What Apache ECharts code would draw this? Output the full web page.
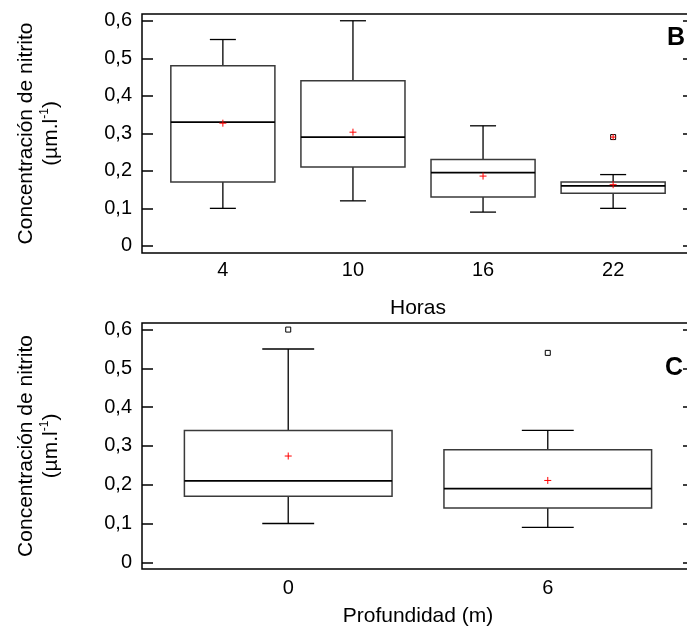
<!DOCTYPE html>
<html>
<head>
<meta charset="utf-8">
<script src="https://cdn.jsdelivr.net/npm/echarts@6/dist/echarts.min.js"></script>
<style>html,body{margin:0;padding:0;background:#fff}#c{width:687px;height:628px}</style>
</head>
<body>
<div id="c"></div>
<script>
// ---- Panel B: by hour ----
const hours = [4, 10, 16, 22];
const hMin = [0.10, 0.12, 0.09, 0.10];
const hQ1 = [0.17, 0.21, 0.13, 0.14];
const hMed = [0.33, 0.29, 0.195, 0.16];
const hQ3 = [0.48, 0.44, 0.23, 0.17];
const hMax = [0.55, 0.60, 0.32, 0.19];
const hMean = [0.327, 0.303, 0.186, 0.163];
const hOutliers = [[22, 0.29]];
const hOutlierPlus = [[22, 0.29]];

// ---- Panel C: by depth ----
const depths = [0, 6];
const dMin = [0.10, 0.09];
const dQ1 = [0.17, 0.14];
const dMed = [0.21, 0.19];
const dQ3 = [0.34, 0.29];
const dMax = [0.55, 0.34];
const dMean = [0.274, 0.211];
const dOutliers = [[0, 0.60], [6, 0.54]];

const yTicks = [0, 0.1, 0.2, 0.3, 0.4, 0.5, 0.6];

const FONT = "'Liberation Sans', Arial, sans-serif";
const BOX_W = 4.8, CAP_W = 1.2;

function rows(xs, mn, q1, md, q3, mx, mean) {
  return xs.map((x, i) => [x, mn[i], q1[i], md[i], q3[i], mx[i], mean[i]]);
}

function boxRender(params, api) {
  const x = api.value(0);
  const pMin = api.coord([x, api.value(1)]);
  const pQ1 = api.coord([x, api.value(2)]);
  const pMed = api.coord([x, api.value(3)]);
  const pQ3 = api.coord([x, api.value(4)]);
  const pMax = api.coord([x, api.value(5)]);
  const pMean = api.coord([x, api.value(6)]);
  const hw = api.size([BOX_W, 0])[0] / 2;
  const cw = api.size([CAP_W, 0])[0] / 2;
  const cx = pMin[0];
  const ln = (x1, y1, x2, y2, st) => ({type: 'line', shape: {x1, y1, x2, y2}, style: st});
  const wStyle = {stroke: '#000', lineWidth: 1.3};
  const mStyle = {stroke: '#000', lineWidth: 1.8};
  const rStyle = {stroke: '#ff0000', lineWidth: 1};
  return {
    type: 'group',
    children: [
      ln(cx, pQ1[1], cx, pMin[1], wStyle),
      ln(cx, pQ3[1], cx, pMax[1], wStyle),
      ln(cx - cw, pMin[1], cx + cw, pMin[1], wStyle),
      ln(cx - cw, pMax[1], cx + cw, pMax[1], wStyle),
      {type: 'rect', shape: {x: cx - hw, y: pQ3[1], width: 2 * hw, height: pQ1[1] - pQ3[1]},
       style: {fill: 'none', stroke: '#3a3a3a', lineWidth: 1.5}},
      ln(cx - hw, pMed[1], cx + hw, pMed[1], mStyle),
      ln(cx - 3.5, pMean[1], cx + 3.5, pMean[1], rStyle),
      ln(cx, pMean[1] - 3.5, cx, pMean[1] + 3.5, rStyle)
    ]
  };
}

function outlierRender(params, api) {
  const p = api.coord([api.value(0), api.value(1)]);
  return {type: 'rect', shape: {x: p[0] - 2.5, y: p[1] - 2.5, width: 5, height: 5},
          style: {fill: '#fff', stroke: '#000', lineWidth: 1}};
}
function plusRender(params, api) {
  const p = api.coord([api.value(0), api.value(1)]);
  const st = {stroke: '#ff0000', lineWidth: 1};
  return {type: 'group', children: [
    {type: 'line', shape: {x1: p[0] - 3, y1: p[1], x2: p[0] + 3, y2: p[1]}, style: st},
    {type: 'line', shape: {x1: p[0], y1: p[1] - 3, x2: p[0], y2: p[1] + 3}, style: st}
  ]};
}

const yName = '{a|Concentración de nitrito}\n{a|(µm.l}{s|-1}{a|)}';
const yNameStyle = {
  rich: {
    a: {fontSize: 21, fontFamily: FONT, color: '#000', lineHeight: 25},
    s: {fontSize: 12, fontFamily: FONT, color: '#000', lineHeight: 25, verticalAlign: 'top'}
  }
};
const fmt = v => (Math.abs(v) < 1e-9 ? '0' : v.toFixed(1).replace('.', ','));

function leftY(gi, mn, mx) {
  return {
    type: 'value', gridIndex: gi, min: mn, max: mx, position: 'left',
    axisLine: {show: false, onZero: false}, splitLine: {show: false},
    axisTick: {show: true, inside: true, length: 11, customValues: yTicks, lineStyle: {color: '#000', width: 1.5}},
    axisLabel: {show: true, customValues: yTicks, formatter: fmt, fontSize: 20, fontFamily: FONT, color: '#000', margin: 10},
    name: yName, nameLocation: 'middle', nameGap: 78, nameRotate: 90, nameTextStyle: yNameStyle
  };
}
function rightY(gi, mn, mx) {
  return {
    type: 'value', gridIndex: gi, min: mn, max: mx, position: 'right',
    axisLine: {show: false, onZero: false}, splitLine: {show: false},
    axisTick: {show: true, inside: true, length: 11, customValues: yTicks, lineStyle: {color: '#000', width: 1.5}},
    axisLabel: {show: false}
  };
}
function xAx(gi, mn, mx, ticks, name, margin, gap) {
  return {
    type: 'value', gridIndex: gi, min: mn, max: mx,
    axisLine: {show: false, onZero: false}, axisTick: {show: false}, splitLine: {show: false},
    axisLabel: {show: true, customValues: ticks, fontSize: 20, fontFamily: FONT, color: '#000', margin: margin},
    name: name, nameLocation: 'middle', nameGap: gap,
    nameTextStyle: {fontSize: 21, fontFamily: FONT, color: '#000'}
  };
}

const option = {
  animation: false,
  backgroundColor: '#fff',
  grid: [
    {left: 142, top: 14, right: -7, height: 239, outerBoundsMode: 'none', containLabel: false,
     show: true, borderColor: '#000', borderWidth: 1.5, backgroundColor: 'transparent'},
    {left: 142, top: 323, right: -7, height: 246, outerBoundsMode: 'none', containLabel: false,
     show: true, borderColor: '#000', borderWidth: 1.5, backgroundColor: 'transparent'}
  ],
  xAxis: [
    xAx(0, 0.27, 25.73, hours, 'Horas', 7, 45),
    xAx(1, -3.38, 9.38, depths, 'Profundidad (m)', 9, 37)
  ],
  yAxis: [
    leftY(0, -0.019, 0.618),
    rightY(0, -0.019, 0.618),
    leftY(1, -0.0173, 0.617),
    rightY(1, -0.0173, 0.617)
  ],
  graphic: [
    {type: 'text', x: 667, y: 26, style: {text: 'B', font: "bold 25px " + FONT, fill: '#000'}},
    {type: 'text', x: 665, y: 356, style: {text: 'C', font: "bold 25px " + FONT, fill: '#000'}}
  ],
  series: [
    {type: 'custom', xAxisIndex: 0, yAxisIndex: 0, renderItem: boxRender,
     data: rows(hours, hMin, hQ1, hMed, hQ3, hMax, hMean)},
    {type: 'custom', xAxisIndex: 0, yAxisIndex: 0, renderItem: outlierRender, data: hOutliers},
    {type: 'custom', xAxisIndex: 0, yAxisIndex: 0, renderItem: plusRender, data: hOutlierPlus, z: 3},
    {type: 'custom', xAxisIndex: 1, yAxisIndex: 2, renderItem: boxRender,
     data: rows(depths, dMin, dQ1, dMed, dQ3, dMax, dMean)},
    {type: 'custom', xAxisIndex: 1, yAxisIndex: 2, renderItem: outlierRender, data: dOutliers}
  ]
};

const chart = echarts.init(document.getElementById('c'), null, {renderer: 'canvas'});
chart.setOption(option);
</script>
</body>
</html>
